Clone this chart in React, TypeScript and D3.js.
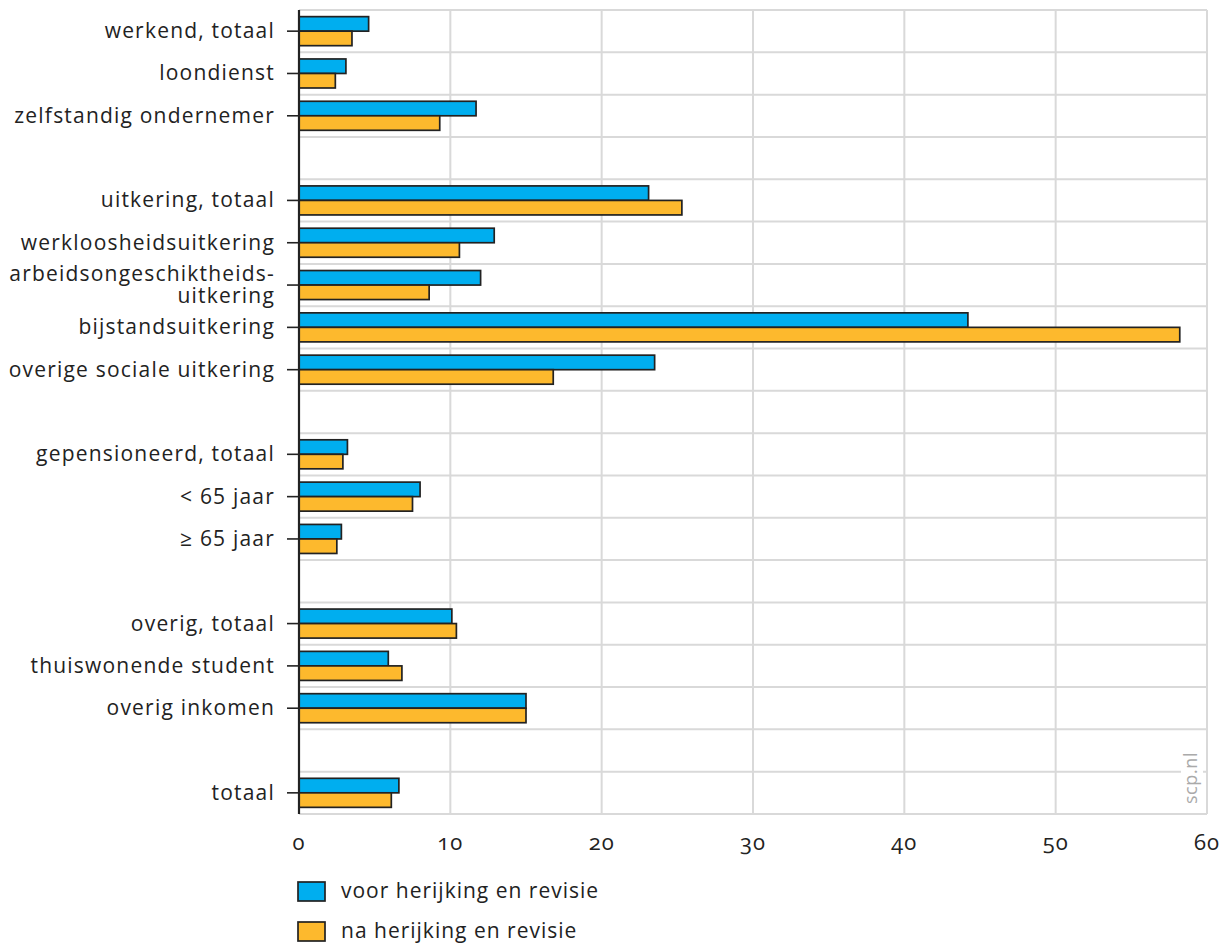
import React from "react";
import * as d3 from "d3";

const categories: string[] = [
  "werkend, totaal",
  "loondienst",
  "zelfstandig ondernemer",
  "",
  "uitkering, totaal",
  "werkloosheidsuitkering",
  "arbeidsongeschiktheids-\nuitkering",
  "bijstandsuitkering",
  "overige sociale uitkering",
  "",
  "gepensioneerd, totaal",
  "< 65 jaar",
  "≥ 65 jaar",
  "",
  "overig, totaal",
  "thuiswonende student",
  "overig inkomen",
  "",
  "totaal",
];

const voor: (number | null)[] = [
  4.6, 3.1, 11.7, null, 23.1, 12.9, 12.0, 44.2, 23.5, null, 3.2, 8.0, 2.8, null, 10.1, 5.9, 15.0, null, 6.6,
];
const na: (number | null)[] = [
  3.5, 2.4, 9.3, null, 25.3, 10.6, 8.6, 58.2, 16.8, null, 2.9, 7.5, 2.5, null, 10.4, 6.8, 15.0, null, 6.1,
];

const xTicks = [0, 10, 20, 30, 40, 50, 60];
const seriesNames = ["voor herijking en revisie", "na herijking en revisie"];
const colors = ["#00aeef", "#fdb92d"];

const W = 1231;
const H = 947;
const left = 299;
const right = 1207;
const top = 10;
const bottom = 814;
const font = "'Open Sans', 'Noto Sans', sans-serif";
const textColor = "#222";

export default function App() {
  const x = d3.scaleLinear().domain([0, 60]).range([left, right]);
  const idx = categories.map((_, i) => String(i));
  const y = d3.scaleBand().domain(idx).range([top, bottom]);
  const bw = y.bandwidth();
  const barH = bw * 0.343;
  const boundaries = d3.range(categories.length + 1).map((i) => top + i * bw);

  return (
    <svg width={W} height={H} style={{ position: "absolute", left: 0, top: 0, background: "#fff" }}>
      <rect x={0} y={0} width={W} height={H} fill="#fff" />
      {/* horizontal gridlines */}
      {boundaries.map((b, i) => (
        <line key={"h" + i} x1={left} x2={right} y1={b} y2={b} stroke="#d9d9d9" strokeWidth={2} />
      ))}
      {/* vertical gridlines */}
      {xTicks.filter((t) => t > 0).map((t) => (
        <line key={"v" + t} x1={x(t)} x2={x(t)} y1={top} y2={bottom} stroke="#d9d9d9" strokeWidth={2} />
      ))}
      {/* watermark */}
      <g transform={`translate(${right - 16},${778}) rotate(-90)`}>
        <rect x={-32} y={-10} width={64} height={22} fill="#fff" />
        <text x={0} y={6} textAnchor="middle" fontFamily={font} fontSize={18} fill="#aaa" letterSpacing={0.6}>
          scp.nl
        </text>
      </g>
      {/* bars */}
      {categories.map((c, i) => {
        const cy = (y(String(i)) as number) + bw / 2;
        const v = voor[i];
        const n = na[i];
        return (
          <g key={"b" + i}>
            {v != null && (
              <rect x={x(0)} y={cy - barH} width={x(v) - x(0)} height={barH} fill={colors[0]} stroke="#222" strokeWidth={1.7} />
            )}
            {n != null && (
              <rect x={x(0)} y={cy} width={x(n) - x(0)} height={barH} fill={colors[1]} stroke="#222" strokeWidth={1.7} />
            )}
          </g>
        );
      })}
      {/* y axis */}
      <line x1={left} x2={left} y1={top} y2={bottom} stroke="#222" strokeWidth={2.2} />
      {categories.map((c, i) => {
        if (!c) return null;
        const cy = (y(String(i)) as number) + bw / 2;
        const lines = c.split("\n");
        const y0 = cy + 7 - ((lines.length - 1) / 2) * 22;
        return (
          <g key={"l" + i}>
            <line x1={left - 12} x2={left} y1={cy} y2={cy} stroke="#222" strokeWidth={1.6} />
            <text
              x={275}
              y={y0}
              textAnchor="end"
              fontFamily={font}
              fontSize={21}
              letterSpacing={1.2}
              fill={textColor}
            >
              {lines.map((ln, j) => (
                <tspan key={j} x={275} y={y0 + j * 22}>
                  {ln}
                </tspan>
              ))}
            </text>
          </g>
        );
      })}
      {/* x tick labels */}
      {xTicks.map((t) => (
        <text
          key={"t" + t}
          x={x(t)}
          y={850}
          textAnchor="middle"
          fontFamily={font}
          fontSize={22}
          letterSpacing={1}
          fill={textColor}
          style={{ fontVariantNumeric: "oldstyle-nums" }}
        >
          {t}
        </text>
      ))}
      {/* legend */}
      {seriesNames.map((s, i) => (
        <g key={"lg" + i} transform={`translate(298,${882 + i * 40})`}>
          <rect x={0} y={0} width={27} height={19} fill={colors[i]} stroke="#222" strokeWidth={1.7} />
          <text x={43} y={16} fontFamily={font} fontSize={21} letterSpacing={1} fill={textColor}>
            {s}
          </text>
        </g>
      ))}
    </svg>
  );
}
